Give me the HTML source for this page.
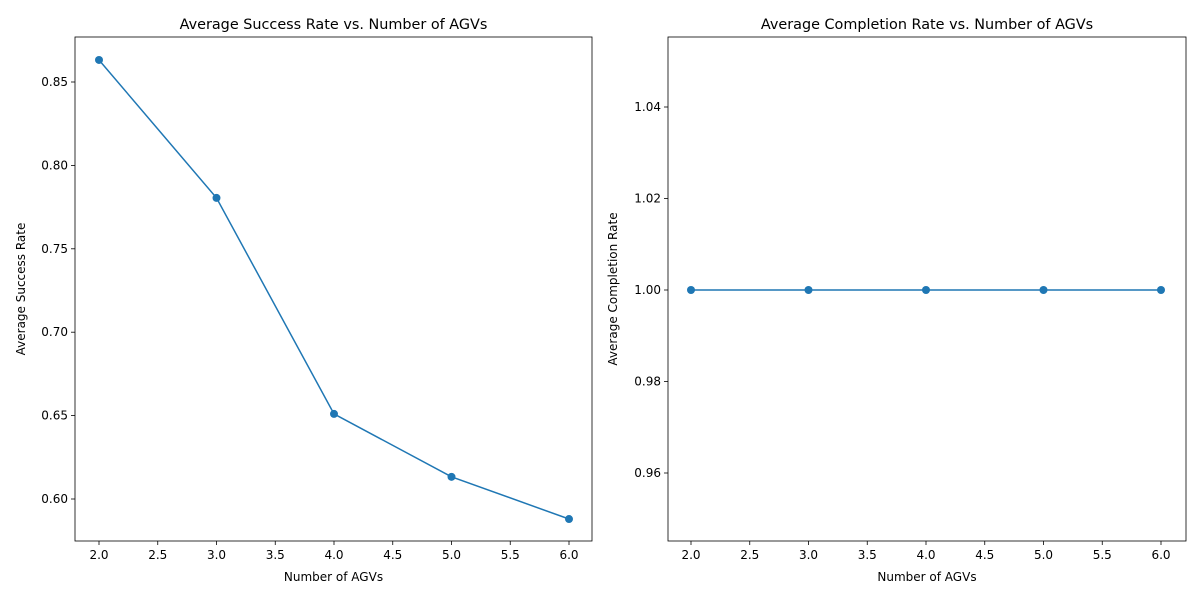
<!DOCTYPE html>
<html><head><meta charset="utf-8">
<style>
body{margin:0;background:#fff;}
svg text{font-family:"DejaVu Sans","Liberation Sans",sans-serif;fill:#000;}
</style></head><body>
<svg id="chart" width="1200" height="600"></svg>
<script>
const xCategories=[2,3,4,5,6];
const successValues=[0.8632,0.7805,0.651,0.6133,0.588];
const completionValues=[1.0,1.0,1.0,1.0,1.0];
const xTickLabels=["2.0","2.5","3.0","3.5","4.0","4.5","5.0","5.5","6.0"];
const leftYTicks=["0.60","0.65","0.70","0.75","0.80","0.85"];
const rightYTicks=["0.96","0.98","1.00","1.02","1.04"];

const svg=document.getElementById('chart');
const NS='http://www.w3.org/2000/svg';
function mk(tag,attrs,parent){const e=document.createElementNS(NS,tag);for(const k in attrs)e.setAttribute(k,attrs[k]);(parent||svg).appendChild(e);return e;}

function panel(cfg){
  const g=mk('g',{});
  
  
  const sx=v=>cfg.x2px+(v-2)*(cfg.x6px-cfg.x2px)/4;
  const sy=v=>cfg.yRefPx+(cfg.yRef-v)*cfg.pxPerUnit;
  // ticks
  xTickLabels.forEach(t=>{
    const x=sx(parseFloat(t));
    mk('line',{x1:x,x2:x,y1:cfg.bottom,y2:cfg.bottom+4,stroke:'#000','stroke-width':0.8},g);
    const tx=mk('text',{x:x,y:cfg.bottom+18,'text-anchor':'middle','font-size':12},g);
    tx.textContent=t;
    
    
  });
  cfg.yTicks.forEach(t=>{
    const y=sy(parseFloat(t));
    mk('line',{x1:cfg.left-4,x2:cfg.left,y1:y,y2:y,stroke:'#000','stroke-width':0.8},g);
    const tx=mk('text',{x:cfg.left-7,y:y+4,'text-anchor':'end','font-size':12},g);
    tx.textContent=t;
    
    
  });
  // line
  const pts=xCategories.map((c,i)=>sx(c)+','+sy(cfg.values[i])).join(' ');
  const pl=mk('polyline',{points:pts,fill:'none',stroke:'#1f77b4','stroke-width':1.5},g);
  
  
  xCategories.forEach((c,i)=>{
    const p=mk('circle',{cx:sx(c),cy:sy(cfg.values[i]),r:4,fill:'#1f77b4'},g);
    
    
  });
  const fr=mk('rect',{x:cfg.left,y:cfg.top,width:cfg.right-cfg.left,height:cfg.bottom-cfg.top,fill:'none',stroke:'#000','stroke-width':0.8},g);
  
  
  const ti=mk('text',{x:(cfg.left+cfg.right)/2,y:cfg.top-8,'text-anchor':'middle','font-size':14.4},g);
  ti.textContent=cfg.title;
  
  
  const xl=mk('text',{x:(cfg.left+cfg.right)/2,y:cfg.bottom+40,'text-anchor':'middle','font-size':12},g);
  xl.textContent='Number of AGVs';
  
  
  const cy=(cfg.top+cfg.bottom)/2;
  const yl=mk('text',{x:cfg.ylabelX,y:cy,'text-anchor':'middle','font-size':12,transform:`rotate(-90 ${cfg.ylabelX} ${cy})`},g);
  yl.textContent=cfg.ylabel;
  
  
}
panel({name:'success-rate-panel',left:75,right:592,top:37,bottom:541,x2px:99,x6px:569,yRef:0.85,yRefPx:82,pxPerUnit:1668,values:successValues,yTicks:leftYTicks,title:'Average Success Rate vs. Number of AGVs',ylabel:'Average Success Rate',ylabelX:25});
panel({name:'completion-rate-panel',left:668,right:1186,top:37,bottom:541,x2px:691,x6px:1161,yRef:1.0,yRefPx:290,pxPerUnit:4575,values:completionValues,yTicks:rightYTicks,title:'Average Completion Rate vs. Number of AGVs',ylabel:'Average Completion Rate',ylabelX:617});
</script>
</body></html>
